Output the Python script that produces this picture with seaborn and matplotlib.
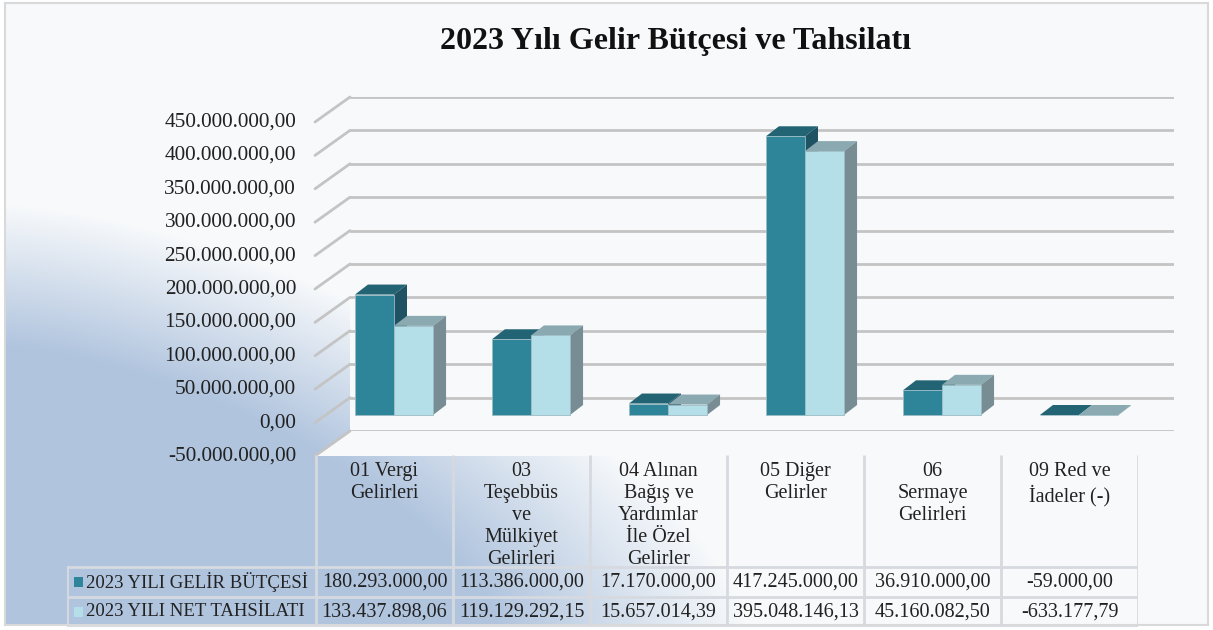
import numpy as np
import pandas as pd
import matplotlib
matplotlib.use("Agg")
import matplotlib.pyplot as plt
from matplotlib.colors import to_hex, to_rgb
from matplotlib.patches import Polygon, Rectangle
import seaborn as sns

# data from the chart
categories = ["01 Vergi\nGelirleri",
              "03\nTeşebbüs\nve\nMülkiyet\nGelirleri",
              "04 Alınan\nBağış ve\nYardımlar\nİle Özel\nGelirler",
              "05 Diğer\nGelirler",
              "06\nSermaye\nGelirleri",
              "09 Red ve\nİadeler (-)"]
series_names = ["2023 YILI GELİR BÜTÇESİ", "2023 YILI NET TAHSİLATI"]
butce = [180293000.00, 113386000.00, 17170000.00, 417245000.00, 36910000.00, -59000.00]
tahsilat = [133437898.06, 119129292.15, 15657014.39, 395048146.13, 45160082.50, -633177.79]
yticks = [-50e6, 0, 50e6, 100e6, 150e6, 200e6, 250e6, 300e6, 350e6, 400e6, 450e6]

front = ["#2e8499", "#b5dfe8"]
top_c = ["#236474", "#8aa9b0"]
side_c = ["#1f5262", "#778d93"]

sns.set_theme(style="white")
plt.rcParams["font.family"] = ["Liberation Serif", "DejaVu Serif"]
plt.rcParams["text.color"] = "#222222"

W, H = 1213, 630
BASE = "#f7f9fb"


def box(l, t, r, b):
    return [l / W, 1 - b / H, (r - l) / W, (b - t) / H]


def fpt(x, y):
    # pixel position (from top-left) -> figure fraction
    return (x / W, 1 - y / H)


def tr(v):
    s = f"{v:,.2f}"
    return s.replace(",", "X").replace(".", ",").replace("X", ".")


fig = plt.figure(figsize=(W / 100, H / 100), dpi=100)
fig.patch.set_facecolor("white")

# background with blue gradient in the lower left
bg = fig.add_axes(box(5, 3, 1208, 625), zorder=-2)
xx, yy = np.meshgrid(np.arange(1203), np.arange(622))
hh = 622 - yy
t = ((xx / 740.0) ** 1.5 + (hh / 420.0) ** 1.5) ** (1 / 1.5)
w = np.clip((1.0 - t) / (1.0 - 0.66), 0, 1)[..., None]
base = np.array(to_rgb(BASE))
blue = np.array(to_rgb("#b0c4de"))
img = base * (1 - w) + blue * w
bg.imshow(img, aspect="auto", interpolation="bilinear")
bg.set_xticks([])
bg.set_yticks([])
for s in bg.spines.values():
    s.set_color("#d9d9d9")
    s.set_linewidth(1.5)

# plot area fill: back wall and floor
wall = Polygon([fpt(350, 97), fpt(1174, 97), fpt(1174, 431), fpt(350, 431)],
               closed=True, transform=fig.transFigure, fc=BASE, ec="none", zorder=-1)
floor = Polygon([fpt(350, 431), fpt(1174, 431), fpt(1139, 456), fpt(315, 456)],
                closed=True, transform=fig.transFigure, fc=BASE, ec="none", zorder=-1)
fig.add_artist(wall)
fig.add_artist(floor)

fig.text(676 / W, 1 - 42 / H, "2023 Yılı Gelir Bütçesi ve Tahsilatı",
         ha="center", va="center", fontsize=23, fontweight="bold", color="#111111")

# back wall with gridlines
ax_wall = fig.add_axes(box(350, 97, 1174, 431))
ax_wall.set_xlim(0, 1)
ax_wall.set_ylim(-50e6, 450e6)
ax_wall.axis("off")
grid_c = "#c4c4c4"
for v in yticks:
    ax_wall.axhline(v, color=grid_c, lw=2)
    ax_wall.annotate("", xy=(0, v), xycoords=("axes fraction", "data"),
                     xytext=(-35 * 0.72, -25 * 0.72), textcoords="offset points",
                     arrowprops=dict(arrowstyle="-", color=grid_c, lw=2,
                                     shrinkA=0, shrinkB=0))
    ax_wall.annotate(tr(v), xy=(0, v), xycoords=("axes fraction", "data"),
                     xytext=(-54 * 0.72, -25 * 0.72), textcoords="offset points",
                     ha="right", va="center", fontsize=15.3)

# bars
df = pd.DataFrame({
    "kategori": categories * 2,
    "seri": [series_names[0]] * len(categories) + [series_names[1]] * len(categories),
    "deger": butce + tahsilat,
})
ax_bar = fig.add_axes(box(325.5, 415 - 450 * 0.668, 1147.5, 415 + 50 * 0.668))
sns.barplot(data=df, x="kategori", y="deger", hue="seri", palette=front,
            width=0.57, saturation=1, ax=ax_bar, legend=False,
            edgecolor="#9bbcc4", linewidth=0.6, zorder=3)
ax_bar.set_xlim(-0.5, 5.5)
ax_bar.set_ylim(-50e6, 450e6)
ax_bar.axis("off")

dx = 13 / 137.0
dy = 10 / 0.668 * 1e6
bars = sorted(ax_bar.patches, key=lambda p: front.index(to_hex(p.get_facecolor())))
for p in bars:
    i = front.index(to_hex(p.get_facecolor()))
    x0 = p.get_x()
    x1 = x0 + p.get_width()
    yb = min(p.get_y(), p.get_y() + p.get_height())
    yt = max(p.get_y(), p.get_y() + p.get_height())
    ax_bar.add_patch(Polygon([(x0, yt), (x1, yt), (x1 + dx, yt + dy), (x0 + dx, yt + dy)],
                             closed=True, fc=top_c[i], ec="none", zorder=2))
    ax_bar.add_patch(Polygon([(x1, yb), (x1, yt), (x1 + dx, yt + dy), (x1 + dx, yb + dy)],
                             closed=True, fc=side_c[i], ec="none", zorder=2))

# data table
ax_tab = fig.add_axes(box(67, 455, 1138, 627))
left = -0.5 - (316 - 67) / 137.0
ax_tab.set_xlim(left, 5.5)
ax_tab.set_ylim(0, 172)
ax_tab.axis("off")
line_c = "#d6dae0"
for k in range(len(categories) + 1):
    ax_tab.plot([k - 0.5, k - 0.5], [0, 172], color=line_c, lw=2, solid_capstyle="butt")
ax_tab.plot([left, left], [0, 60], color=line_c, lw=2)
for yv in [0, 30, 60]:
    ax_tab.plot([left, 5.5], [yv, yv], color=line_c, lw=2)

for k, cat in enumerate(categories):
    ax_tab.text(k, 165, cat, ha="center", va="top", fontsize=14.5, linespacing=1.22)
    ax_tab.text(k, 45, tr(butce[k]), ha="center", va="center", fontsize=14.5)
    ax_tab.text(k, 15, tr(tahsilat[k]), ha="center", va="center", fontsize=14.5)

for r, (name, yc) in enumerate(zip(series_names, [45, 15])):
    ax_tab.add_patch(Rectangle((left + 7 / 137.0, yc - 5), 9 / 137.0, 10,
                               fc=front[r], ec="none"))
    ax_tab.text(left + 19 / 137.0, yc, name, ha="left", va="center", fontsize=13.5)

fig.savefig("out.png", dpi=100)
plt.close(fig)
